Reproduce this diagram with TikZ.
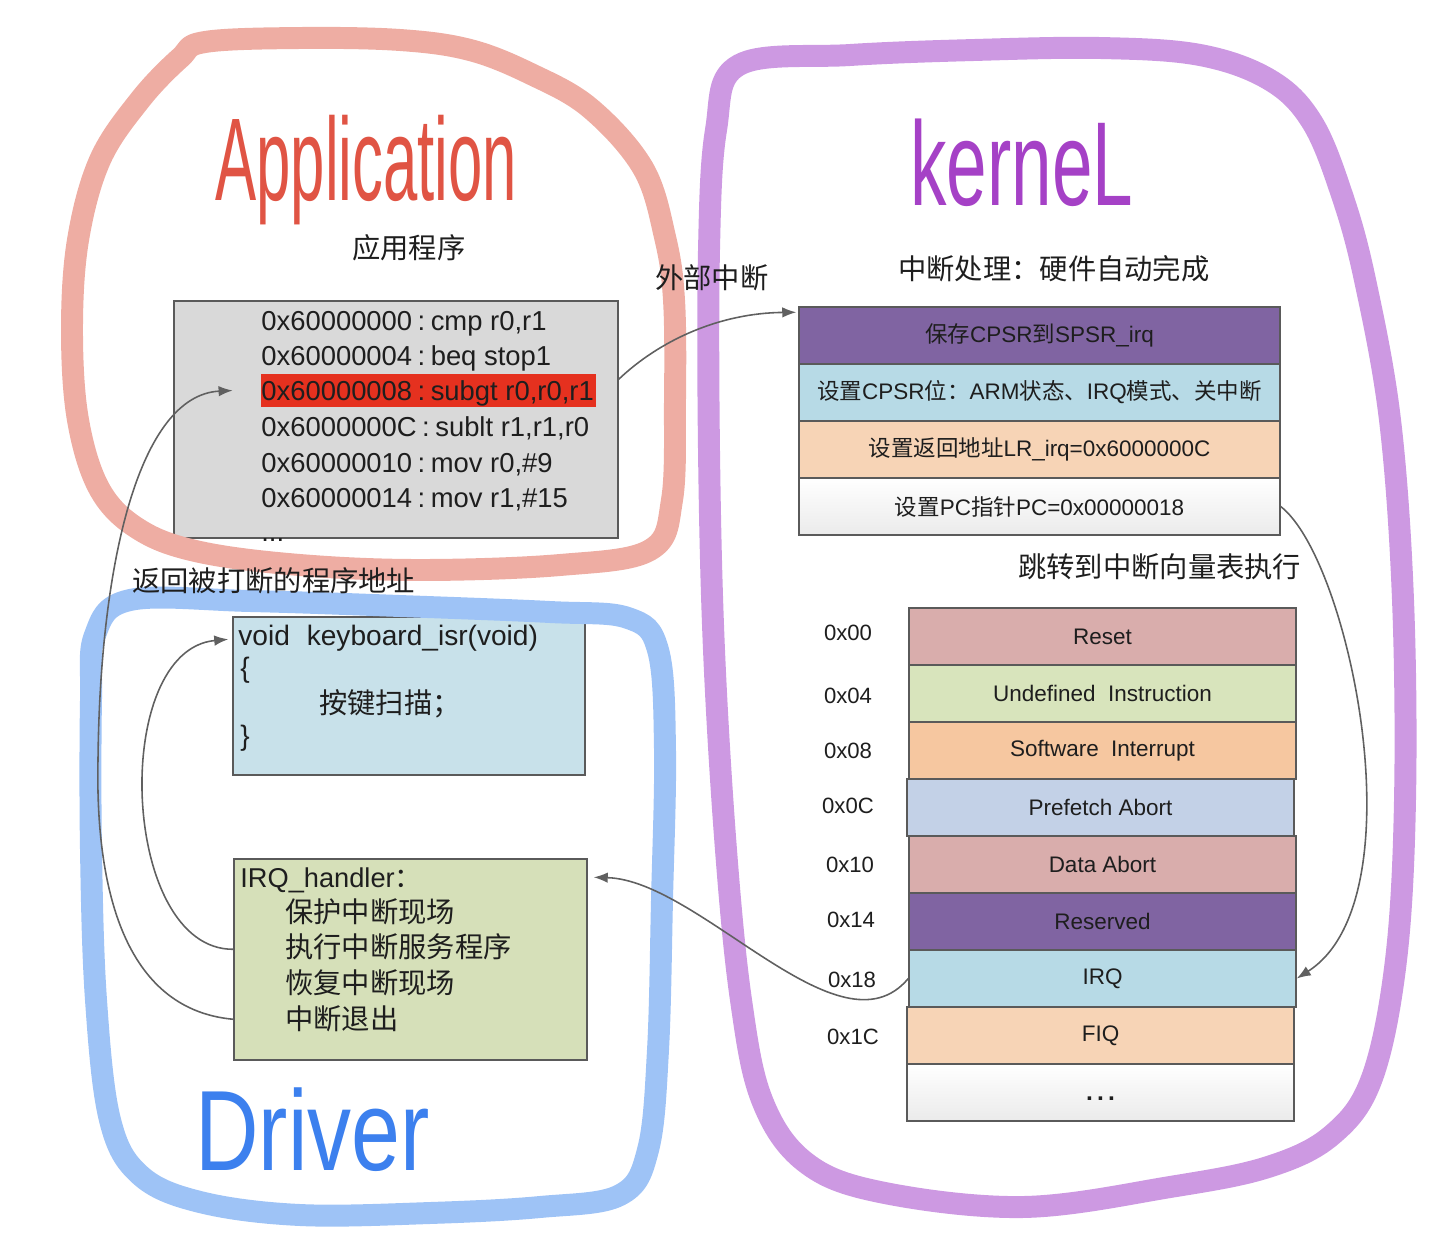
\documentclass[tikz,border=0pt]{standalone}
\usepackage{fontspec}
\setmainfont{Liberation Sans}
\newfontfamily\cjk{Noto Sans CJK SC}
\usepackage{graphicx}
\usetikzlibrary{arrows.meta,fit}
\definecolor{codegray}{HTML}{D9D9D9}
\definecolor{hlred}{HTML}{E5311F}
\definecolor{boxline}{HTML}{5A5A5A}
\definecolor{purrow}{HTML}{8064A2}
\definecolor{bluerow}{HTML}{B7DAE6}
\definecolor{peachrow}{HTML}{F7D4B6}
\definecolor{resetrow}{HTML}{D9ADAC}
\definecolor{undefrow}{HTML}{D8E4BC}
\definecolor{swirow}{HTML}{F6C7A0}
\definecolor{pabtrow}{HTML}{C3D1E7}
\definecolor{kbdfill}{HTML}{C8E1EA}
\definecolor{hndfill}{HTML}{D6E0B9}
\definecolor{salmon}{HTML}{EEADA3}
\definecolor{loopblue}{HTML}{9EC3F6}
\definecolor{looppur}{HTML}{CD99E2}
\definecolor{connc}{HTML}{606060}
\definecolor{txt}{HTML}{1E1E1E}
\definecolor{appred}{HTML}{E05444}
\definecolor{kernpur}{HTML}{A541C6}
\definecolor{drvblue}{HTML}{3C80EE}
\newcommand\addrsep{\hspace{0.2em}:\hspace{0.2em}}
\pgfdeclarelayer{bg}
\pgfdeclarelayer{loops}
\pgfsetlayers{bg,loops,main}
\tikzset{
  box/.style={draw=boxline, line width=0.8pt, inner sep=0pt},
  conn/.style={draw=connc, line width=0.9pt, -{Latex[length=8pt,width=6pt]}},
  penloop/.style={line width=12.5pt, line cap=round, line join=round},
  codetxt/.style={inner sep=0pt, anchor=base west, text=txt, font=\fontsize{15.6}{18}\selectfont},
  cjklbl/.style={inner sep=0pt, anchor=base west, text=txt, font=\cjk\fontsize{16.1}{18}\selectfont},
  rowtxt/.style={inner sep=0pt, anchor=center, text=txt, font=\fontsize{12.8}{15}\selectfont},
  addr/.style={inner sep=0pt, anchor=center, text=txt, font=\fontsize{12.6}{15}\selectfont},
  title/.style={inner sep=0pt, anchor=base west}
}
\begin{document}
\begin{tikzpicture}[x=0.02cm,y=-0.02cm]
\useasboundingbox (0,0) rectangle (1444,1248);

\begin{pgfonlayer}{bg}
% application code box
\node[box, fill=codegray, fit={(174,301) (618,538)}] (code) {};
\node[inner sep=0pt, fill=hlred, fit={(261,374) (596,407)}] (hl) {};
\node[codetxt] (c1) at (261,330) {0x60000000\addrsep cmp r0,r1};
\node[codetxt] (c2) at (261,365) {0x60000004\addrsep beq stop1};
\node[codetxt] (c3) at (261,400) {0x60000008\addrsep subgt r0,r0,r1};
\node[codetxt] (c4) at (261,436) {0x6000000C\addrsep sublt r1,r1,r0};
\node[codetxt] (c5) at (261,472) {0x60000010\addrsep mov r0,\#9};
\node[codetxt] (c6) at (261,507) {0x60000014\addrsep mov r1,\#15};
\node[codetxt] (c7) at (261,541) {...};

% kernel hardware steps
\node[box, fill=purrow, fit={(799,307) (1280,364)}] (save) {};
\node[box, fill=bluerow, fit={(799,364) (1280,421)}] (cpsr) {};
\node[box, fill=peachrow, fit={(799,421) (1280,478)}] (lr) {};
\node[box, top color=white, bottom color=black!8, fit={(799,478) (1280,535)}] (pc) {};
\node[rowtxt] (tsave) at (save.center) {{\cjk 保存}CPSR{\cjk 到}SPSR\_irq};
\node[rowtxt] (tcpsr) at (cpsr.center) {{\cjk 设置}CPSR{\cjk 位：}ARM{\cjk 状态、}IRQ{\cjk 模式、关中断}};
\node[rowtxt] (tlr) at (lr.center) {{\cjk 设置返回地址}LR\_irq=0x6000000C};
\node[rowtxt] (tpc) at (pc.center) {{\cjk 设置}PC{\cjk 指针}PC=0x00000018};

% vector table
\node[box, fill=resetrow, fit={(909,608) (1296,665)}] (reset) {};
\node[box, fill=undefrow, fit={(909,665) (1296,722)}] (undef) {};
\node[box, fill=swirow, fit={(909,722) (1296,779)}] (swi) {};
\node[box, fill=pabtrow, fit={(907,779) (1294,836)}] (pabt) {};
\node[box, fill=resetrow, fit={(909,836) (1296,893)}] (dabt) {};
\node[box, fill=purrow, fit={(909,893) (1296,950)}] (resv) {};
\node[box, fill=bluerow, fit={(909,950) (1296,1007)}] (irq) {};
\node[box, fill=peachrow, fit={(907,1007) (1294,1064)}] (fiq) {};
\node[box, top color=white, bottom color=black!8, fit={(907,1064) (1294,1121)}] (more) {};
\node[rowtxt] (treset) at (reset.center) {Reset};
\node[rowtxt] (tundef) at (undef.center) {Undefined\ \ Instruction};
\node[rowtxt] (tswi) at (swi.center) {Software\ \ Interrupt};
\node[rowtxt] (tpabt) at (pabt.center) {Prefetch Abort};
\node[rowtxt] (tdabt) at (dabt.center) {Data Abort};
\node[rowtxt] (tresv) at (resv.center) {Reserved};
\node[rowtxt] (tirq) at (irq.center) {IRQ};
\node[rowtxt] (tfiq) at (fiq.center) {FIQ};
\node[rowtxt, anchor=base, font=\bfseries\fontsize{14}{15}\selectfont] (tmore) at ([yshift=-0.16cm]more.center) {.\,.\,.};

% driver boxes
\node[box, fill=kbdfill, fit={(233,617) (585,775)}] (kbd) {};
\node[codetxt, font=\fontsize{16}{18}\selectfont] (k1) at (238,645) {void\hspace{0.6em}keyboard\_isr(void)};
\node[codetxt, font=\fontsize{16}{18}\selectfont] (k2) at (240,677) {\{};
\node[cjklbl] (k3) at (319,713) {按键扫描；};
\node[codetxt, font=\fontsize{16}{18}\selectfont] (k4) at (240,745) {\}};

\node[box, fill=hndfill, fit={(234,859) (587,1060)}] (handler) {};
\node[codetxt, font=\fontsize{15.5}{18}\selectfont] (h1) at (240,887) {IRQ\_handler{\cjk ：}};
\node[cjklbl] (h2) at (285,922) {保护中断现场};
\node[cjklbl] (h3) at (285,957) {执行中断服务程序};
\node[cjklbl] (h4) at (285,993) {恢复中断现场};
\node[cjklbl] (h5) at (285,1029) {中断退出};
\end{pgfonlayer}

% hand-drawn pen loops
\begin{pgfonlayer}{loops}
\draw[penloop, salmon] plot[smooth cycle, tension=0.6] coordinates {
 (205,42) (300,38) (400,40) (470,50) (531,74) (590,108) (643,168) (665,237) (674,300)
 (675,400) (672,500) (650,550) (560,565) (420,570) (300,565) (200,552) (140,530)
 (100,490) (78,420) (72,330) (78,240) (100,160) (140,100) (180,58)};
\draw[penloop, loopblue] plot[smooth cycle, tension=0.6] coordinates {
 (130,600) (250,601) (400,606) (550,612) (628,618) (658,650) (665,750) (662,900)
 (658,1050) (648,1150) (620,1195) (540,1207) (430,1213) (300,1215) (200,1202)
 (140,1175) (110,1120) (96,1000) (91,850) (91,700) (95,635)};
\draw[penloop, looppur] plot[smooth cycle, tension=0.6] coordinates {
 (739,65) (850,55) (974,50) (1100,48) (1200,55) (1270,80) (1312,122) (1342,195)
 (1365,280) (1390,420) (1403,600) (1405,800) (1396,960) (1372,1078) (1332,1135)
 (1268,1167) (1170,1187) (1023,1207) (880,1192) (805,1162) (762,1100) (741,1000)
 (726,850) (714,650) (709,450) (709,250) (716,130)};
\end{pgfonlayer}

% free labels
\node[cjklbl] (lapp) at (352,258) {应用程序};
\node[cjklbl] (lext) at (655,288) {外部中断};
\node[cjklbl] (lhw) at (898,279) {中断处理：硬件自动完成};
\node[cjklbl] (ljmp) at (1018,577) {跳转到中断向量表执行};
\node[cjklbl] (lret) at (132,591) {返回被打断的程序地址};

% vector addresses
\node[addr] (a0) at (848,633) {0x00};
\node[addr] (a4) at (848,696) {0x04};
\node[addr] (a8) at (848,751) {0x08};
\node[addr] (aC) at (848,806) {0x0C};
\node[addr] (a10) at (850,865) {0x10};
\node[addr] (a14) at (851,920) {0x14};
\node[addr] (a18) at (852,980) {0x18};
\node[addr] (a1C) at (853,1037) {0x1C};

% connectors
\draw[conn] ([yshift=-1.58cm]code.north east) .. controls (660,340) and (720,313) .. ([xshift=-0.04cm,yshift=-0.12cm]save.north west);
\draw[conn] (pc.east) .. controls (1350,560) and (1420,900) .. (irq.east);
\draw[conn] (irq.west) .. controls (840,1060) and (700,880) .. ([xshift=0.12cm,yshift=-0.38cm]handler.north east);
\draw[conn] ([yshift=-1.82cm]handler.north west) .. controls (120,950) and (110,650) .. ([xshift=-0.08cm,yshift=-0.46cm]kbd.north west);
\coordinate (retmid) at (98,760);
\draw[conn] ([yshift=-3.22cm]handler.north west) .. controls (130,1010) and (95,900) .. (retmid) .. controls (100,560) and (140,395) .. ([xshift=-0.56cm]hl.west);

% handwritten titles
\node[title, text=appred] (tapp) at (215,200) {\scalebox{0.524}[1]{\fontsize{67}{67}\selectfont Application}};
\node[title, text=kernpur] (tker) at (910,205) {\scalebox{0.61}[1]{\fontsize{68}{68}\selectfont kerneL}};
\node[title, text=drvblue] (tdrv) at (195,1170) {\scalebox{0.77}[1]{\fontsize{65}{65}\selectfont Driver}};
\end{tikzpicture}
\end{document}
